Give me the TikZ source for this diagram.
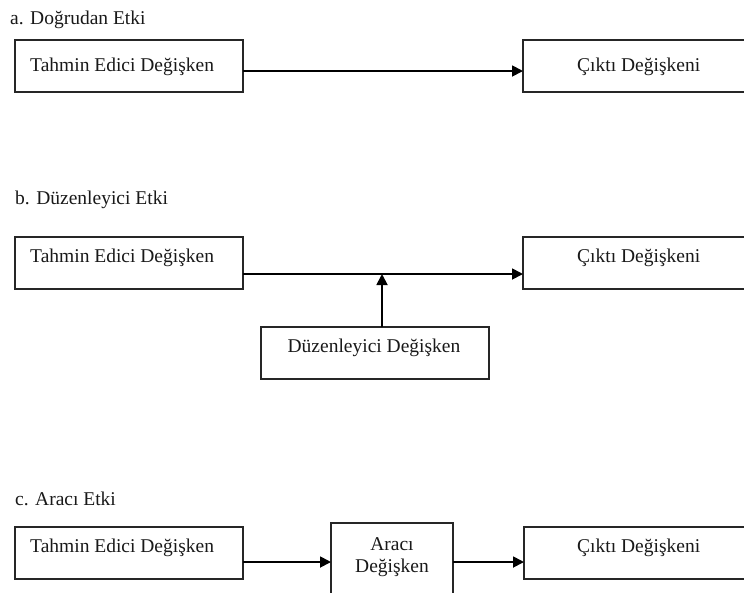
\documentclass[tikz,border=0pt]{standalone}
\usepackage{fontspec}
\setmainfont{Liberation Serif}
\usetikzlibrary{arrows.meta,calc}
\begin{document}
\begin{tikzpicture}[x=1pt,y=-1pt,
  box/.style={draw=black!85,line width=1.6pt,rectangle,inner sep=0pt,outer sep=0pt,minimum width=228pt,minimum height=52pt},
  txt/.style={font=\fontsize{19.5pt}{22pt}\selectfont,inner sep=0pt,text=black!90},
  arr/.style={draw=black,line width=1.8pt,-{Triangle[length=11pt,width=11pt]}}]
\useasboundingbox (0,0) rectangle (744,592);
\clip (0,0) rectangle (744,592);
\fill[white] (0,0) rectangle (744,592);

% a. Direct effect
\node[txt,anchor=base west] (la) at (10,24) {a. Doğrudan Etki};
\node[box] (a1) at (129,66) {};
\node[box] (a2) at (637,66) {};
\node[txt,anchor=base west] (a1t) at (30,71) {Tahmin Edici Değişken};
\node[txt,anchor=base west] (a2t) at (577,71) {Çıktı Değişkeni};
\path ($(a1.east)+(0,5)$) coordinate (ay);
\draw[arr] (ay) -- (a2.west |- ay);

% b. Moderating effect
\node[txt,anchor=base west] (lb) at (15,204) {b. Düzenleyici Etki};
\node[box] (b1) at (129,263) {};
\node[box] (b2) at (637,263) {};
\node[txt,anchor=base west] (b1t) at (30,262) {Tahmin Edici Değişken};
\node[txt,anchor=base west] (b2t) at (577,262) {Çıktı Değişkeni};
\node[box] (dz) at (375,353) {};
\node[txt,anchor=base] (dzt) at (374,352) {Düzenleyici Değişken};
\path ($(b1.east)+(0,11)$) coordinate (by);
\draw[arr] (by) -- (b2.west |- by);
\path ($(dz.north)+(7,0)$) coordinate (dzn);
\draw[arr] (dzn) -- (dzn |- by);

% c. Mediating effect
\node[txt,anchor=base west] (lc) at (15,505) {c. Aracı Etki};
\node[box] (c1) at (129,553) {};
\node[box,minimum width=122pt,minimum height=80pt] (ar) at (392,563) {};
\node[box] (c3) at (638,553) {};
\node[txt,anchor=base west] (c1t) at (30,552) {Tahmin Edici Değişken};
\node[txt,anchor=base west] (c3t) at (577,552) {Çıktı Değişkeni};
\node[txt,anchor=base] (art1) at (392,550) {Aracı};
\node[txt,anchor=base] (art2) at (392,572) {Değişken};
\path ($(c1.east)+(0,9)$) coordinate (cy);
\draw[arr] (cy) -- (ar.west |- cy);
\draw[arr] (ar.east |- cy) -- (c3.west |- cy);
\end{tikzpicture}
\end{document}
